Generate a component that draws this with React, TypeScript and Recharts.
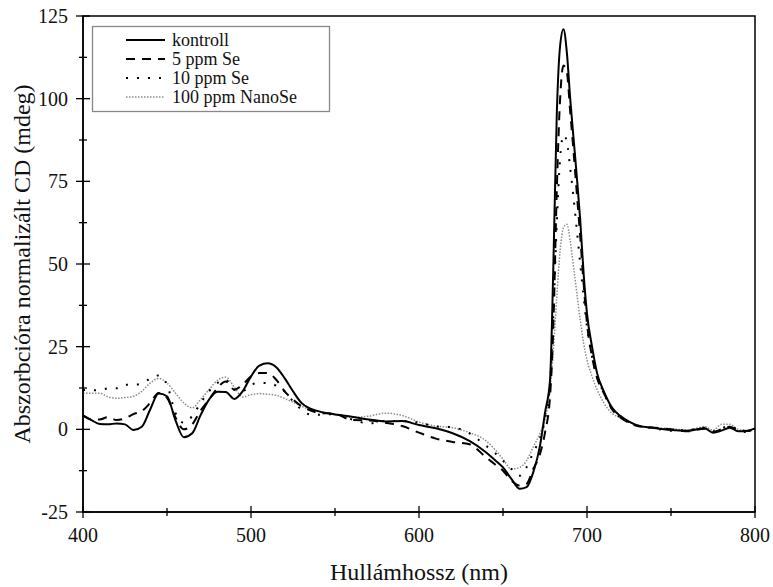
import React from "react";
import {
  LineChart,
  Line,
  XAxis,
  YAxis,
  ReferenceArea,
} from "recharts";

const FONT = "'Liberation Serif', 'Times New Roman', serif";

// wavelength grid (nm)
const wavelengths = [
  400, 405, 410, 415, 420, 425, 430, 435, 440, 445,
  450, 455, 460, 465, 470, 475, 480, 485, 490, 495,
  500, 505, 510, 515, 520, 525, 530, 535, 540,
  550, 560, 570, 580, 590, 600, 610, 620, 630, 640, 645, 650, 655,
  660, 664, 668, 672, 675, 678,
  680, 682, 684, 686, 688, 690, 692, 694, 696, 698, 700,
  703, 706, 710, 715, 720, 725, 730,
  740, 750, 760, 770, 775, 780, 785, 790, 795, 800,
];

const kontroll = [
  4.2, 2.8, 1.6, 1.5, 1.8, 1.5, -0.2, 0.8, 6.0, 10.8,
  10.0, 2.8, -2.4, -1.2, 4.3, 9.0, 11.4, 11.3, 9.2, 11.5,
  16.0, 19.3, 20.0, 18.8, 15.5, 11.5, 8.0, 6.3, 5.5,
  4.5, 3.8, 3.0, 2.4, 2.5, 1.3, 0.3, -1.2, -3.5, -7.0, -9.2, -11.5, -15.0,
  -18.0, -17.5, -13.0, -5.0, 5.0, 15.0,
  50, 95, 116, 121, 114, 100, 88, 76, 63, 47, 35,
  25, 17, 11.5, 6.5, 4.0, 2.3, 1.2,
  0.4, -0.2, -0.4, 0.3, -1.0, -0.4, 0.5, -0.6, -0.5, 0.3,
];

const se5 = [
  4.2, 3.0, 3.0, 3.7, 2.8, 3.3, 4.6, 5.5, 8.0, 11.0,
  9.5, 3.7, 0.0, 1.5, 5.7, 9.0, 12.5, 14.5, 12.0, 13.5,
  16.0, 17.0, 17.0, 15.0, 11.5, 9.0, 7.0, 5.8, 5.0,
  4.7, 2.8, 2.7, 2.0, 1.0, -1.0, -2.8, -3.8, -4.5, -8.5, -10.5, -12.5, -15.5,
  -17.0, -16.5, -12.0, -7.5, -1.0, 10.0,
  32, 72, 100, 110, 108, 96, 84, 71, 58, 44, 32,
  22, 15.5, 11.0, 6.0, 3.5, 2.0, 1.0,
  0.5, 0.0, -0.6, 0.2, -0.8, 0.0, 0.8, -0.3, -0.5, 0.1,
];

const se10 = [
  12.0, 11.8, 11.8, 12.4, 12.4, 13.5, 13.5, 13.8, 15.4, 16.3,
  13.5, 5.0, 2.0, 4.0, 8.0, 11.5, 14.0, 15.0, 12.0, 11.5,
  13.5, 14.0, 14.0, 13.2, 11.5, 8.5, 6.0, 4.5, 4.4,
  4.6, 3.0, 1.8, 2.5, 2.5, 2.0, 0.9, 0.6, -1.2, -5.0, -7.0, -9.5, -12.0,
  -14.0, -11.5, -7.0, -2.7, 3.0, 14.0,
  35, 62, 82, 89, 87, 79, 70, 60, 50, 40, 31,
  22, 16, 11, 6.0, 3.5, 2.2, 1.2,
  0.3, -0.4, -0.2, 0.5, -0.6, 0.3, 1.0, -0.2, -0.8, 0.2,
];

const nanoSe100 = [
  10.9, 10.9, 10.9, 9.8, 9.4, 9.6, 10.0, 11.5, 14.0, 15.4,
  14.0, 11.0, 8.0, 6.5, 9.0, 12.0, 14.8, 15.8, 12.8, 9.8,
  10.5, 10.8, 10.6, 10.3, 9.3, 8.2, 7.0, 6.0, 5.4,
  4.5, 3.6, 4.0, 4.9, 4.2, 2.2, 1.0, 0.5, -1.0, -3.5, -6.0, -9.0, -12.0,
  -11.5, -9.5, -5.3, -1.2, 3.0, 12.0,
  24, 40, 54, 61, 62, 57, 49, 41, 33, 26, 21,
  16, 12, 8.0, 4.8, 3.5, 2.2, 1.2,
  0.5, 0.2, -0.2, 0.8, -0.3, 1.5, 1.5, 0.0, -0.3, 0.3,
];

const xTicks = [400, 450, 500, 550, 600, 650, 700, 750, 800];
const yTicks = [-25, -12.5, 0, 12.5, 25, 37.5, 50, 62.5, 75, 87.5, 100, 112.5, 125];

const data = wavelengths.map((nm, i) => ({
  nm,
  kontroll: kontroll[i],
  se5: se5[i],
  se10: se10[i],
  nano: nanoSe100[i],
}));

const series = [
  { key: "nano", name: "100 ppm NanoSe", color: "#8c8c8c", width: 1.5, dash: "1.5 1.5" },
  { key: "se10", name: "10 ppm Se", color: "#000", width: 2, dash: "2 9" },
  { key: "se5", name: "5 ppm Se", color: "#000", width: 2, dash: "9 7" },
  { key: "kontroll", name: "kontroll", color: "#000", width: 2, dash: undefined },
];

function XTick({ x, y, payload }: any) {
  const v = payload.value;
  const major = v % 100 === 0;
  const h = major ? 6 : 4;
  return (
    <g>
      <line x1={x} x2={x} y1={y - h} y2={y + h} stroke="#000" strokeWidth={1.3} />
      {major && (
        <text x={x} y={y + 30} textAnchor="middle" fontSize={20} fontFamily={FONT} fill="#111">
          {v}
        </text>
      )}
    </g>
  );
}

function YTick({ x, y, payload }: any) {
  const v = payload.value;
  const major = v % 25 === 0;
  const h = major ? 7 : 4;
  return (
    <g>
      <line x1={x - h} x2={x + h} y1={y} y2={y} stroke="#000" strokeWidth={1.3} />
      {major && (
        <text x={x - 15} y={y + 7} textAnchor="end" fontSize={20} fontFamily={FONT} fill="#111">
          {v}
        </text>
      )}
    </g>
  );
}

function LegendBox() {
  const order = [...series].reverse();
  return (
    <svg
      width={238}
      height={86}
      style={{ position: "absolute", left: 92, top: 26, overflow: "visible" }}
    >
      <rect x={0.5} y={0.5} width={237} height={85} fill="#fff" stroke="#888" strokeWidth={1.3} />
      {order.map((s, i) => {
        const cy = 14 + i * 19;
        return (
          <g key={s.key}>
            <line
              x1={34}
              x2={73}
              y1={cy}
              y2={cy}
              stroke={s.color}
              strokeWidth={s.width}
              strokeDasharray={s.dash}
            />
            <text x={80} y={cy + 6} fontSize={18} fontFamily={FONT} fill="#111">
              {s.name}
            </text>
          </g>
        );
      })}
    </svg>
  );
}

export default function App() {
  return (
    <div style={{ position: "absolute", left: 0, top: 0, width: 773, height: 587, background: "#fff" }}>
      <LineChart
        width={773}
        height={587}
        data={data}
        margin={{ top: 16, right: 18, left: 8, bottom: 0 }}
      >
        <ReferenceArea
          x1={400}
          x2={800}
          y1={-25}
          y2={125}
          fill="none"
          stroke="#000"
          strokeWidth={1.5}
          ifOverflow="visible"
        />
        <XAxis
          dataKey="nm"
          type="number"
          domain={[400, 800]}
          ticks={xTicks}
          tick={<XTick />}
          tickLine={false}
          tickSize={0}
          tickMargin={0}
          axisLine={{ stroke: "#000", strokeWidth: 1.5 }}
          height={75}
          interval={0}
          label={{
            value: "Hullámhossz (nm)",
            position: "insideBottom",
            offset: 7,
            style: { fontSize: 24, fontFamily: FONT, fill: "#111" },
          }}
        />
        <YAxis
          type="number"
          domain={[-25, 125]}
          ticks={yTicks}
          tick={<YTick />}
          tickLine={false}
          tickSize={0}
          tickMargin={0}
          axisLine={{ stroke: "#000", strokeWidth: 1.5 }}
          width={75}
          interval={0}
          label={{
            value: "Abszorbcióra normalizált CD (mdeg)",
            angle: -90,
            position: "insideLeft",
            offset: 13,
            style: { fontSize: 24, fontFamily: FONT, fill: "#111", textAnchor: "middle" },
          }}
        />
        {series.map((s) => (
          <Line
            key={s.key}
            dataKey={s.key}
            name={s.name}
            type="monotone"
            stroke={s.color}
            strokeWidth={s.width}
            strokeDasharray={s.dash}
            dot={false}
            activeDot={false}
            isAnimationActive={false}
          />
        ))}
      </LineChart>
      <LegendBox />
    </div>
  );
}
